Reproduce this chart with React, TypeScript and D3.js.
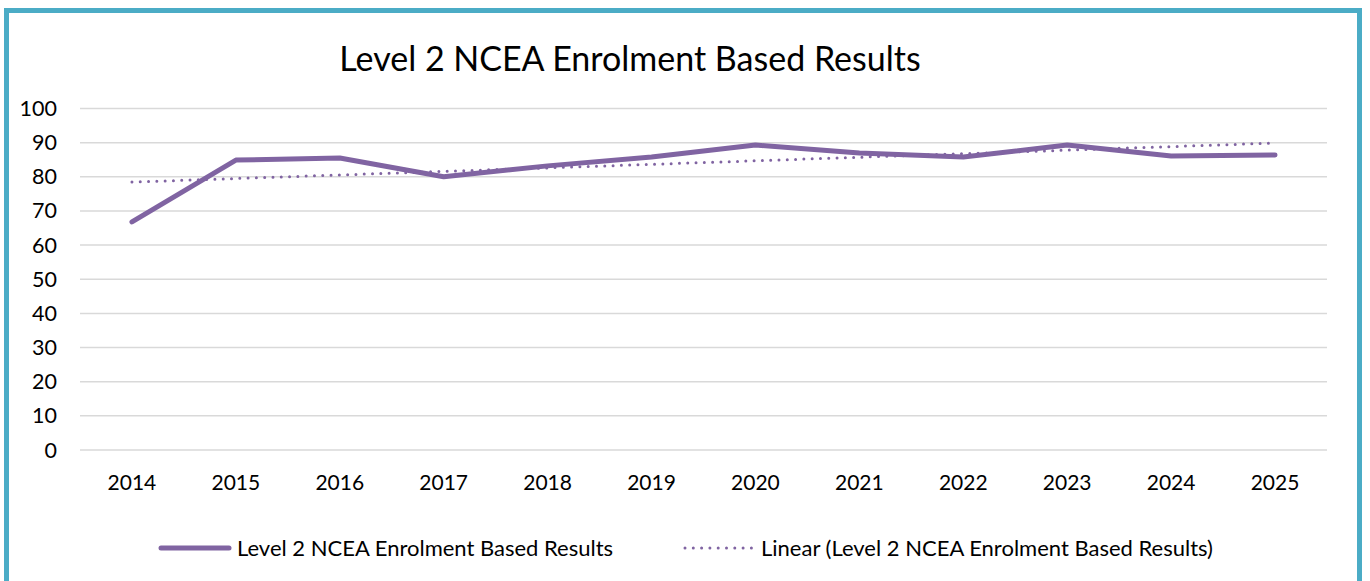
import React from "react";
import * as d3 from "d3";

const years = ["2014","2015","2016","2017","2018","2019","2020","2021","2022","2023","2024","2025"];
const results = [66.8, 84.9, 85.5, 80.0, 83.2, 85.8, 89.3, 87.0, 85.8, 89.3, 86.1, 86.4];
const yTicks = [0,10,20,30,40,50,60,70,80,90,100];
const title = "Level 2 NCEA Enrolment Based Results";
const seriesName = "Level 2 NCEA Enrolment Based Results";
const trendName = "Linear (Level 2 NCEA Enrolment Based Results)";

const W = 1370, H = 581;
const FONT = "Lato, 'Open Sans', sans-serif";
const PURPLE = "#8064a2";

export default function App() {
  const x = d3.scaleBand<string>().domain(years).range([80, 1327]);
  const y = d3.scaleLinear().domain([0, 100]).range([450, 108.5]);
  const cx = (d: string) => (x(d) ?? 0) + x.bandwidth() / 2;

  // linear regression (trendline)
  const idx = years.map((_, i) => i);
  const mx = d3.mean(idx)!;
  const my = d3.mean(results)!;
  const slope = d3.sum(idx.map((i) => (i - mx) * (results[i] - my))) / d3.sum(idx.map((i) => (i - mx) ** 2));
  const intercept = my - slope * mx;
  const trend = years.map((yr, i) => ({ yr, v: intercept + slope * i }));

  const line = d3.line<number>().x((_, i) => cx(years[i])).y((d) => y(d));
  const tline = d3.line<{ yr: string; v: number }>().x((d) => cx(d.yr)).y((d) => y(d.v));

  return (
    <svg width={W} height={H} style={{ position: "absolute", left: 0, top: 0, background: "#fff" }} fontFamily={FONT}>
      <rect x={6.5} y={10.5} width={1353} height={600} fill="#fff" stroke="#4bacc6" strokeWidth={5} />
      <text x={630} y={71} textAnchor="middle" fontSize={34} fill="#000">{title}</text>
      {yTicks.map((t) => (
        <g key={t}>
          <line x1={80} x2={1327} y1={y(t)} y2={y(t)} stroke="#d9d9d9" strokeWidth={1.5} />
          <text x={57} y={y(t)} dy="0.35em" textAnchor="end" fontSize={21.5} fill="#000">{t}</text>
        </g>
      ))}
      {years.map((yr) => (
        <text key={yr} x={cx(yr)} y={483} dy="0.35em" textAnchor="middle" fontSize={21} fill="#000">{yr}</text>
      ))}
      <path d={line(results) ?? ""} fill="none" stroke={PURPLE} strokeWidth={5} strokeLinejoin="round" strokeLinecap="round" />
      <path d={tline(trend) ?? ""} fill="none" stroke={PURPLE} strokeWidth={3} strokeDasharray="0 8.3" strokeLinecap="round" />
      <line x1={161} x2={229} y1={548} y2={548} stroke={PURPLE} strokeWidth={5} strokeLinecap="round" />
      <text x={237} y={548} dy="0.35em" fontSize={22} fill="#000">{seriesName}</text>
      <line x1={685} x2={754} y1={548} y2={548} stroke={PURPLE} strokeWidth={3} strokeDasharray="0 8.3" strokeLinecap="round" />
      <text x={761} y={548} dy="0.35em" fontSize={22} fill="#000">{trendName}</text>
    </svg>
  );
}
